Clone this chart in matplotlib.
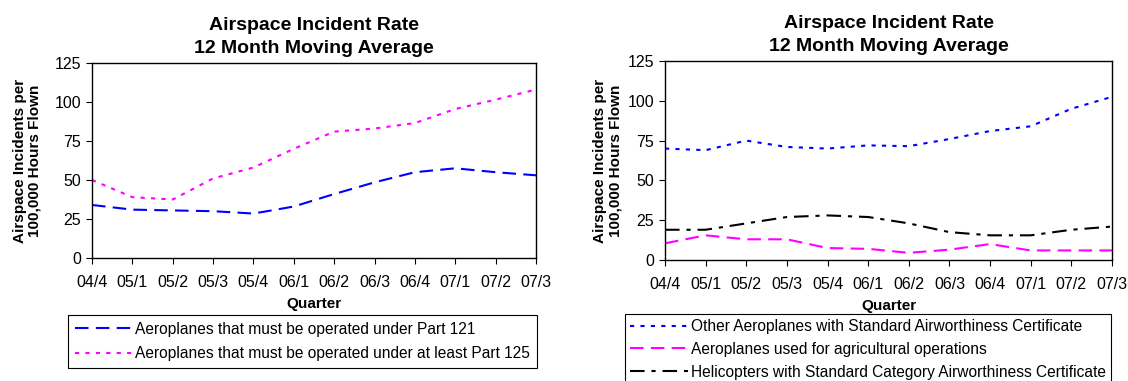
import numpy as np
import matplotlib
matplotlib.use("Agg")
import matplotlib.pyplot as plt

plt.rcParams['font.family'] = ['Liberation Sans', 'DejaVu Sans']

quarters = ["04/4", "05/1", "05/2", "05/3", "05/4", "06/1",
            "06/2", "06/3", "06/4", "07/1", "07/2", "07/3"]

# left chart
part121 = [34, 31, 30.5, 30, 28.5, 33, 41, 48.5, 55, 57.5, 55, 53]
part125 = [50, 39, 37.5, 51, 58, 70, 81, 83, 86.5, 95.5, 101.5, 108]

# right chart
other_aero = [70, 69, 75, 71, 70, 72, 71.5, 76, 81, 84, 95, 102.5]
agricultural = [10.5, 15.5, 13, 13, 7.5, 7, 4.5, 6.5, 10, 6, 6, 6]
helicopters = [19, 19, 23, 27, 28, 27, 23, 17.5, 15.5, 15.5, 19, 21]

yticks = [0, 25, 50, 75, 100, 125]

W, H = 1128, 381
fig = plt.figure(figsize=(W / 100, H / 100), dpi=100)

DASH = (6.5, 3.5)
DOT = (2, 3)
DASHDOT = (7, 3.3, 2, 3.3)


def setup(ax, ylabelpad):
    x = np.arange(len(quarters))
    ax.set_xlim(0, len(quarters) - 1)
    ax.set_ylim(0, 125)
    ax.set_xticks(x)
    ax.set_xticklabels(quarters, fontsize=11.5)
    ax.set_yticks(yticks)
    ax.tick_params(axis='y', labelsize=11.5, length=4, width=0.8, pad=4)
    ax.tick_params(axis='x', length=4, width=0.8, pad=8)
    ax.set_title("Airspace Incident Rate\n12 Month Moving Average",
                 fontsize=14, fontweight='bold', pad=7, linespacing=1.45)
    ax.set_xlabel("Quarter", fontsize=11, fontweight='bold', labelpad=5)
    ax.set_ylabel("Airspace Incidents per\n100,000 Hours Flown",
                  fontsize=11, fontweight='bold', labelpad=ylabelpad,
                  linespacing=1.1)
    for s in ax.spines.values():
        s.set_linewidth(1.0)
        s.set_color('black')
    return x


def add_legend(ax, left, top, spacing, pad):
    leg = fig.legend(handles=ax.get_lines(), loc='upper left',
                     bbox_to_anchor=(left / W, 1 - top / H), fontsize=11.2,
                     fancybox=False, edgecolor='black', framealpha=1,
                     handlelength=3.7, handletextpad=0.2, borderpad=pad,
                     labelspacing=spacing, borderaxespad=0)
    leg.get_frame().set_linewidth(0.8)
    return leg


ax1 = fig.add_axes([92 / W, 1 - 258 / H, (536 - 92) / W, (258 - 63) / H])
x = setup(ax1, 9)
ax1.plot(x, part121, color='#0000ff', lw=1.5, dashes=DASH,
         label="Aeroplanes that must be operated under Part 121")
ax1.plot(x, part125, color='#ff00ff', lw=1.5, dashes=DOT,
         label="Aeroplanes that must be operated under at least Part 125")
add_legend(ax1, 68, 315, 0.6, 0.43)

ax2 = fig.add_axes([665 / W, 1 - 260 / H, (1112 - 665) / W, (260 - 61) / H])
x = setup(ax2, 3.5)
ax2.plot(x, other_aero, color='#0000ff', lw=1.5, dashes=DOT,
         label="Other Aeroplanes with Standard Airworthiness Certificate")
ax2.plot(x, agricultural, color='#ff00ff', lw=1.5, dashes=DASH,
         label="Aeroplanes used for agricultural operations")
ax2.plot(x, helicopters, color='black', lw=1.5, dashes=DASHDOT,
         label="Helicopters with Standard Category Airworthiness Certificate")
add_legend(ax2, 625, 314, 0.5, 0.33)

fig.savefig("out.png", dpi=100)
